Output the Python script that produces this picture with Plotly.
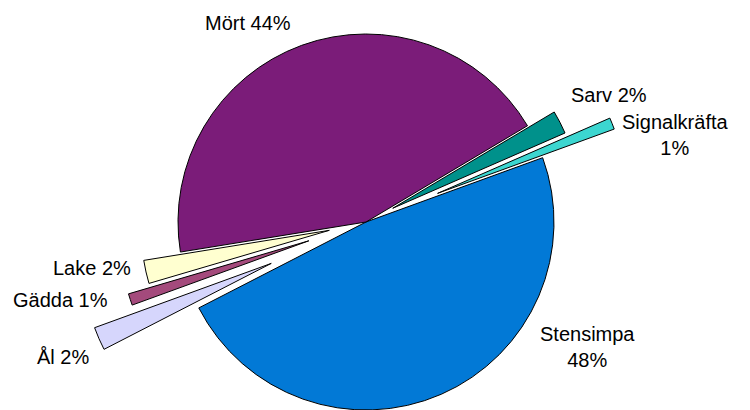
import math
import plotly.graph_objects as go

# ---- data ----
species = ["Stensimpa", "Ål", "Gädda", "Lake", "Mört", "Sarv", "Signalkräfta"]
percent = [48, 2, 1, 2, 44, 2, 1]

# ---- style ----
colors = ["#0279D6", "#D6D6FC", "#A44A7C", "#FFFFD0", "#7B1C79", "#00918B", "#3CD6D0"]
pull = [0, 0.55, 0.32, 0.20, 0, 0.16, 0.41]          # explode distance as fraction of radius
two_line = [True, False, False, False, False, False, True]
label_pos = [(587, 347), (63, 357), (61, 300), (92, 268), (248, 23), (609, 95), (675, 135)]

W, H = 750, 460            # viewport shows the top 410 px
CX, CY, R = 366, 222, 188  # pie centre / radius in px
ROT = 70                   # first slice starts 70 deg clockwise from 12 o'clock

total = sum(percent)
transparent = "rgba(0,0,0,0)"

fig = go.Figure()

# group slices: unexploded slices share one trace, each exploded slice gets its own
groups = [[i for i, p in enumerate(pull) if p == 0]] + [[i] for i, p in enumerate(pull) if p > 0]

cum = 0
mid_angle = []
for v in percent:
    # math angle (deg, counter-clockwise from 3 o'clock) of slice bisector
    mid_angle.append((90 - ROT) - 360 * (cum + v / 2) / total)
    cum += v

for grp in groups:
    p = pull[grp[0]]
    a = math.radians(mid_angle[grp[0]])
    dx, dy = p * R * math.cos(a), -p * R * math.sin(a)
    cx, cy = CX + dx, CY + dy
    fig.add_trace(go.Pie(
        labels=species,
        values=percent,
        sort=False,
        direction="clockwise",
        rotation=ROT,
        textinfo="none",
        hoverinfo="label+percent",
        showlegend=False,
        marker=dict(
            colors=[colors[i] if i in grp else transparent for i in range(len(species))],
            line=dict(color="black", width=[1 if i in grp else 0 for i in range(len(species))]),
        ),
        domain=dict(
            x=[(cx - R) / W, (cx + R) / W],
            y=[1 - (cy + R) / H, 1 - (cy - R) / H],
        ),
    ))

for i, name in enumerate(species):
    sep = "<br>" if two_line[i] else " "
    px, py = label_pos[i]
    fig.add_annotation(
        text=f"{name}{sep}{percent[i]}%",
        x=px / W, y=1 - py / H, xref="paper", yref="paper",
        xanchor="center", yanchor="middle", showarrow=False,
        font=dict(family="Arial, Liberation Sans, sans-serif", size=20, color="black"),
    )

fig.update_layout(
    width=W, height=H,
    margin=dict(l=0, r=0, t=0, b=0),
    paper_bgcolor="white",
    plot_bgcolor="white",
)

fig.write_html("out.html")
